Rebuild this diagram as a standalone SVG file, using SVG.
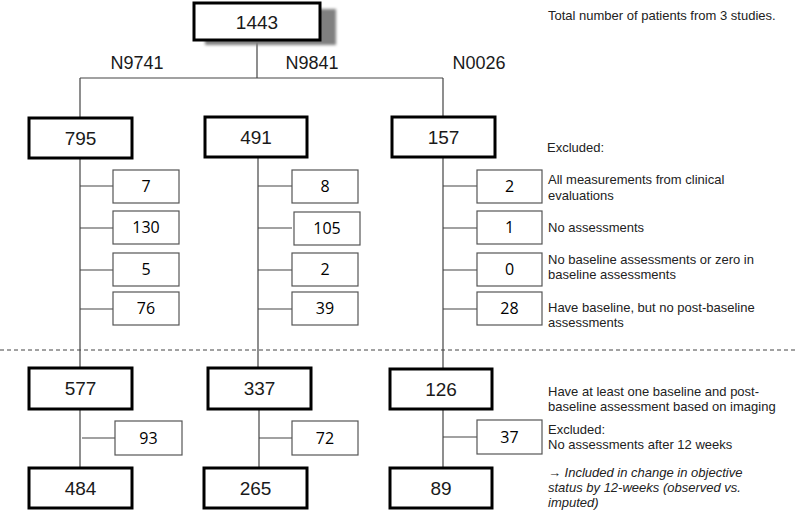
<svg xmlns="http://www.w3.org/2000/svg" width="796" height="515" viewBox="0 0 796 515">
<defs>
<filter id="blur" x="-20%" y="-20%" width="140%" height="140%"><feGaussianBlur stdDeviation="1.5"/></filter>
</defs>
<style>
.big{fill:#fff;stroke:#000;stroke-width:3}
.sm{fill:#fff;stroke:#555;stroke-width:1.2}
.bn{font-family:"Liberation Sans",Arial,sans-serif;font-size:19px;text-anchor:middle;fill:#1a1a1a}
.lbl{font-family:"Liberation Sans",Arial,sans-serif;font-size:18px;text-anchor:middle;fill:#1a1a1a}
.sn{font-family:"Open Sans",sans-serif;font-size:16px;text-anchor:middle;fill:#000}
.note{font-family:"Liberation Sans",Arial,sans-serif;font-size:13px;fill:#222}
.it{font-style:italic}
.conn line{stroke:#444;stroke-width:1.2}
</style>
<rect width="796" height="515" fill="#fff"/>
<g class="conn" id="connectors">
<line x1="257" y1="40" x2="257" y2="78"/>
<line x1="80" y1="78" x2="443" y2="78"/>
<line x1="80" y1="78" x2="80" y2="118"/>
<line x1="443" y1="78" x2="443" y2="117"/>
<line x1="80" y1="158" x2="80" y2="368"/>
<line x1="80" y1="186" x2="113" y2="186"/>
<line x1="80" y1="228" x2="113" y2="228"/>
<line x1="80" y1="270" x2="113" y2="270"/>
<line x1="80" y1="309" x2="113" y2="309"/>
<line x1="258" y1="157" x2="258" y2="368"/>
<line x1="258" y1="186" x2="292" y2="186"/>
<line x1="258" y1="228" x2="292" y2="228"/>
<line x1="258" y1="270" x2="292" y2="270"/>
<line x1="258" y1="309" x2="292" y2="309"/>
<line x1="443" y1="157" x2="443" y2="369"/>
<line x1="443" y1="186" x2="477" y2="186"/>
<line x1="443" y1="228" x2="477" y2="228"/>
<line x1="443" y1="270" x2="477" y2="270"/>
<line x1="443" y1="309" x2="477" y2="309"/>
<line x1="80" y1="409" x2="80" y2="468"/>
<line x1="82" y1="438" x2="115" y2="438"/>
<line x1="259" y1="409" x2="259" y2="468"/>
<line x1="259" y1="438" x2="292" y2="438"/>
<line x1="443" y1="409" x2="443" y2="468"/>
<line x1="443" y1="437" x2="477" y2="437"/>
</g>
<line id="divider" x1="0" y1="350" x2="796" y2="350" stroke="#444" stroke-width="1" stroke-dasharray="4 3"/>

<g id="n1443">
<rect x="205" y="9" width="131" height="36" fill="#808080" filter="url(#blur)"/>
<rect class="big" x="194" y="3" width="126" height="37"/>
<text class="bn" x="257" y="29">1443</text>
</g>
<text class="lbl" x="137" y="69">N9741</text>
<text class="lbl" x="312" y="69">N9841</text>
<text class="lbl" x="479" y="69">N0026</text>

<g id="n795"><rect class="big" x="29" y="118" width="103" height="40"/><text class="bn" x="80.5" y="145">795</text></g>
<g id="n491"><rect class="big" x="205" y="117" width="102" height="40"/><text class="bn" x="256" y="144">491</text></g>
<g id="n157"><rect class="big" x="392" y="117" width="103" height="40"/><text class="bn" x="443.5" y="144">157</text></g>

<g id="s7"><rect class="sm" x="113" y="170" width="66" height="33"/><text class="sn" x="146" y="192">7</text></g>
<g id="s130"><rect class="sm" x="113" y="211" width="66" height="33"/><text class="sn" x="146" y="233">130</text></g>
<g id="s5"><rect class="sm" x="113" y="253" width="66" height="33"/><text class="sn" x="146" y="275">5</text></g>
<g id="s76"><rect class="sm" x="113" y="292" width="66" height="33"/><text class="sn" x="146" y="314">76</text></g>

<g id="s8"><rect class="sm" x="292" y="170" width="66" height="33"/><text class="sn" x="325" y="192">8</text></g>
<g id="s105"><rect class="sm" x="294" y="212" width="66" height="33"/><text class="sn" x="327" y="234">105</text></g>
<g id="s2a"><rect class="sm" x="292" y="253" width="66" height="33"/><text class="sn" x="325" y="275">2</text></g>
<g id="s39"><rect class="sm" x="292" y="292" width="66" height="33"/><text class="sn" x="325" y="314">39</text></g>

<g id="s2b"><rect class="sm" x="477" y="170" width="65" height="33"/><text class="sn" x="509.5" y="192">2</text></g>
<g id="s1"><rect class="sm" x="477" y="211" width="65" height="33"/><text class="sn" x="509.5" y="233">1</text></g>
<g id="s0"><rect class="sm" x="477" y="253" width="65" height="33"/><text class="sn" x="509.5" y="275">0</text></g>
<g id="s28"><rect class="sm" x="477" y="292" width="65" height="33"/><text class="sn" x="509.5" y="314">28</text></g>

<g id="n577"><rect class="big" x="29" y="368" width="103" height="41"/><text class="bn" x="80.5" y="395">577</text></g>
<g id="n337"><rect class="big" x="208" y="368" width="103" height="41"/><text class="bn" x="259.5" y="395">337</text></g>
<g id="n126"><rect class="big" x="390" y="369" width="102" height="40"/><text class="bn" x="441" y="396">126</text></g>

<g id="s93"><rect class="sm" x="115" y="421" width="67" height="34"/><text class="sn" x="148.5" y="444">93</text></g>
<g id="s72"><rect class="sm" x="292" y="421" width="66" height="34"/><text class="sn" x="325" y="444">72</text></g>
<g id="s37"><rect class="sm" x="477" y="420" width="65" height="34"/><text class="sn" x="509.5" y="443">37</text></g>

<g id="n484"><rect class="big" x="29" y="468" width="103" height="40"/><text class="bn" x="80.5" y="495">484</text></g>
<g id="n265"><rect class="big" x="204" y="468" width="103" height="40"/><text class="bn" x="255.5" y="495">265</text></g>
<g id="n89"><rect class="big" x="390" y="468" width="102" height="40"/><text class="bn" x="441" y="495">89</text></g>

<g id="notes">
<text class="note" x="548" y="20">Total number of patients from 3 studies.</text>
<text class="note" x="547" y="152">Excluded:</text>
<text class="note" x="548" y="184">All measurements from clinical</text>
<text class="note" x="548" y="200">evaluations</text>
<text class="note" x="548" y="232">No assessments</text>
<text class="note" x="548" y="264">No baseline assessments or zero in</text>
<text class="note" x="548" y="279">baseline assessments</text>
<text class="note" x="548" y="312">Have baseline, but no post-baseline</text>
<text class="note" x="548" y="327">assessments</text>
<text class="note" x="548" y="396">Have at least one baseline and post-</text>
<text class="note" x="548" y="411">baseline assessment based on imaging</text>
<text class="note" x="548" y="434">Excluded:</text>
<text class="note" x="548" y="449">No assessments after 12 weeks</text>
<text class="note it" x="548" y="477">→ Included in change in objective</text>
<text class="note it" x="548" y="492">status by 12-weeks (observed vs.</text>
<text class="note it" x="548" y="507">imputed)</text>
</g>
</svg>
